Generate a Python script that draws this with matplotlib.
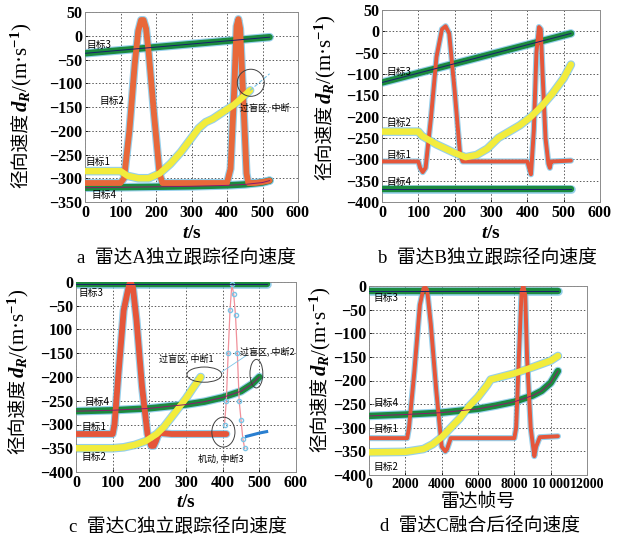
import matplotlib
matplotlib.use("Agg")
import matplotlib.pyplot as plt
from matplotlib.patches import Ellipse

plt.rcParams['font.family'] = ['Liberation Serif', 'Noto Sans CJK SC', 'DejaVu Sans']
plt.rcParams['mathtext.fontset'] = 'custom'
plt.rcParams['mathtext.rm'] = 'Liberation Serif:bold'
plt.rcParams['mathtext.it'] = 'Liberation Serif:italic:bold'
plt.rcParams['mathtext.bf'] = 'Liberation Serif:bold'

# ---------------- data: panel a ----------------
a_t3_t = [0, 520]
a_t3_v = [-37, -3]
a_t4_t = [0, 100, 200, 300, 400, 450, 500, 520]
a_t4_v = [-320, -319, -318, -317, -315, -313, -309, -305]
a_t1_t = [0, 100, 110, 125, 140, 150, 158, 165, 172, 180, 195, 210, 218,
          400, 410, 420, 427, 432, 437, 445, 455, 460, 480, 500, 520]
a_t1_v = [-310, -310, -300, -200, -60, 10, 33, 33, 15, -40, -170, -290, -310,
          -310, -280, -120, 20, 35, 15, -120, -290, -310, -310, -308, -305]
a_t2_t = [0, 100, 120, 150, 180, 210, 240, 270, 300, 320, 340, 360, 380, 400, 420, 440, 465]
a_t2_v = [-285, -285, -295, -300, -300, -290, -270, -245, -215, -195, -182, -175, -165, -155, -145, -132, -115]
a_gap_t = [465, 520]
a_gap_v = [-115, -80]

# ---------------- data: panel b ----------------
b_t3_t = [0, 520]
b_t3_v = [-120, -5]
b_t4_t = [0, 520]
b_t4_v = [-370, -370]
b_t1_t = [0, 100, 105, 112, 120, 135, 150, 165, 175, 185, 200, 215, 222,
          400, 405, 410, 418, 425, 432, 437, 442, 450, 458, 462, 465, 470, 520]
b_t1_v = [-305, -305, -320, -330, -320, -200, -60, 5, 12, -5, -140, -290, -305,
          -305, -320, -335, -230, -50, 10, 5, -100, -250, -310, -320, -305, -305, -303]
b_t2_t = [0, 100, 110, 150, 200, 230, 260, 290, 320, 350, 380, 410, 440, 470, 500, 520]
b_t2_v = [-235, -235, -245, -265, -285, -295, -290, -275, -250, -235, -220, -200, -175, -145, -110, -78]

# ---------------- data: panel c ----------------
c_t3_t = [0, 520]
c_t3_v = [-5, -5]
c_t4_t = [0, 100, 200, 300, 350, 400, 450, 480, 500]
c_t4_v = [-272, -270, -266, -258, -252, -243, -230, -215, -200]
c_t1_t = [0, 100, 105, 115, 130, 145, 150, 155, 165, 180, 195, 205, 212, 218, 225, 232, 260, 300, 350, 400, 410]
c_t1_v = [-320, -320, -300, -200, -60, -5, -2, -10, -80, -220, -320, -345, -345, -335, -320, -318,
          -320, -320, -320, -320, -320]
c_br_t = [405, 410, 415, 420, 425, 430, 435, 440, 445, 450, 455, 460]
c_br_v = [-300, -250, -150, -60, -5, -25, -70, -150, -250, -290, -330, -350]
c_bl_t = [465, 480, 500, 520]
c_bl_v = [-325, -322, -318, -315]
c_t2_t = [0, 50, 100, 130, 160, 190, 220, 240, 260, 280, 300, 320, 340]
c_t2_v = [-350, -350, -350, -348, -343, -335, -320, -305, -285, -265, -245, -222, -200]

# ---------------- data: panel d ----------------
d_t3_t = [0, 10400]
d_t3_v = [-10, -10]
d_t4_t = [0, 2000, 4000, 6000, 7000, 8000, 9000, 9500, 10000, 10400]
d_t4_v = [-275, -272, -268, -260, -253, -245, -232, -222, -205, -180]
d_t1_t = [0, 2100, 2200, 2500, 2800, 3000, 3100, 3200, 3400, 3700, 4000, 4200, 4300, 4500,
          8000, 8100, 8250, 8400, 8500, 8600, 8700, 8900, 9100, 9200, 9400, 10400]
d_t1_v = [-322, -322, -300, -180, -40, -5, -3, -8, -80, -220, -340, -350, -345, -322,
          -322, -300, -150, -10, 0, -20, -150, -300, -360, -340, -320, -318]
d_t2_t = [0, 2000, 3000, 3500, 4000, 4500, 5000, 5500, 6000, 6500, 6700, 7000, 8000, 9000, 10000, 10400]
d_t2_v = [-352, -351, -345, -335, -320, -300, -280, -255, -235, -210, -198, -195, -185, -172, -158, -148]

titles = ["a  雷达A独立跟踪径向速度", "b  雷达B独立跟踪径向速度",
          "c  雷达C独立跟踪径向速度", "d  雷达C融合后径向速度"]
ylabel_cjk = "径向速度"
ylabel_unit = "$d_R$/(m·s$^{-1}$)"

RED = '#e5563a'
YEL = '#f2ec3c'
GRN = '#1b8a3e'
CYAN = '#7cc4e6'
SERIF_CJK = ['Liberation Serif', 'Noto Sans CJK SC', 'DejaVu Sans']

W, H = 624, 542
fig = plt.figure(figsize=(W / 100, H / 100), dpi=100)
renderer = fig.canvas.get_renderer()


def add_ax(l, t, r, b):
    return fig.add_axes([l / W, 1 - b / H, (r - l) / W, (b - t) / H])


def track(ax, x, y, color, lw=4.6, center=None):
    ax.plot(x, y, color=CYAN, lw=lw + 1.6, alpha=0.8, solid_capstyle='round', zorder=2)
    ax.plot(x, y, color=color, lw=lw, solid_capstyle='round', zorder=3)
    if center:
        ax.plot(x, y, color=center, lw=0.7, zorder=4)


def ylab(xc, yc):
    t1 = fig.text(xc / W, 0, ylabel_cjk, rotation=90, ha='center', va='bottom',
                  fontsize=13.5, family=['Noto Sans CJK SC'])
    t2 = fig.text(xc / W, 0, ylabel_unit, rotation=90, ha='center', va='bottom',
                  fontsize=15, family=['Liberation Serif'])
    h1 = t1.get_window_extent(renderer).height
    h2 = t2.get_window_extent(renderer).height
    ybot = (H - yc) - (h1 + h2) / 2
    t1.set_y(ybot / H)
    t2.set_y((ybot + h1 + 1) / H)


def style(ax, xlim, ylim, xticks, yticks, ylabels=None):
    ax.set_xlim(*xlim)
    ax.set_ylim(*ylim)
    ax.set_xticks(xticks)
    ax.set_yticks(yticks)
    if ylabels is None:
        ylabels = [("\u2212" + str(-v)) if v < 0 else str(v) for v in yticks]
    ax.set_yticklabels(ylabels)
    ax.tick_params(direction='in', length=2, labelsize=11.5, pad=2, width=0.6)
    for lb in ax.get_xticklabels() + ax.get_yticklabels():
        lb.set_fontweight('bold')
    ax.grid(True, linestyle=(0, (1.5, 2)), color='0.35', lw=0.7)
    for s in ax.spines.values():
        s.set_color('0.55')
        s.set_linewidth(0.7)


def lab(ax, x, y, s):
    ax.text(x, y, s, fontsize=7, family=['Noto Sans CJK SC'], va='center', ha='left', zorder=6)


def title(x, y, s):
    fig.text(x / W, 1 - y / H, s, ha='center', va='center', fontsize=13.5, family=SERIF_CJK)


def note(ax, x, y, s):
    ax.text(x, y, s, fontsize=6.5, family=['Noto Sans CJK SC'], ha='center', va='center', zorder=6)


# ---- panel a ----
ax = add_ax(85, 12, 298, 202)
style(ax, (0, 600), (-350, 50), range(0, 601, 100), list(range(50, -351, -50)))
track(ax, a_t3_t, a_t3_v, GRN, center='#1a1f6b')
track(ax, a_t4_t, a_t4_v, GRN, center='#8a1a6b')
track(ax, a_t1_t, a_t1_v, '#e8683a', lw=4.2)
track(ax, a_t2_t, a_t2_v, YEL)
ax.plot(a_gap_t, a_gap_v, color=CYAN, lw=0.8, ls='--', zorder=3)
ax.add_patch(Ellipse((467, -99), 76, 57, fill=False, ec='0.25', lw=0.7, zorder=5))
note(ax, 505, -150, "过盲区, 中断")
lab(ax, 5, -20, "目标3")
lab(ax, 40, -137, "目标2")
lab(ax, 1, -266, "目标1")
lab(ax, 18, -336, "目标4")
ax.set_xlabel("$t$/s", fontsize=14, fontweight='bold', labelpad=3)
ylab(21, 106)
title(186, 258, titles[0])

# ---- panel b ----
ax = add_ax(382, 10, 600, 202)
style(ax, (0, 600), (-400, 50), range(0, 601, 100), list(range(50, -401, -50)))
track(ax, b_t3_t, b_t3_v, GRN, center='#1a1f6b')
track(ax, b_t4_t, b_t4_v, GRN, center='#1a1f6b')
track(ax, b_t1_t, b_t1_v, RED, lw=2.8)
track(ax, b_t2_t, b_t2_v, YEL)
lab(ax, 12, -96, "目标3")
lab(ax, 12, -216, "目标2")
lab(ax, 12, -290, "目标1")
lab(ax, 12, -353, "目标4")
ax.set_xlabel("$t$/s", fontsize=14, fontweight='bold', labelpad=3)
ylab(325, 98)
title(487, 258, titles[1])

# ---- panel c ----
ax = add_ax(76, 282, 296, 472)
style(ax, (0, 600), (-400, 0), range(0, 601, 100), list(range(0, -401, -50)),
      ["0", "\u221250", "100", "\u2212150", "\u2212200", "\u2212250", "\u2212300", "\u2212350", "\u2212400"])
track(ax, c_t3_t, c_t3_v, GRN, center='#1a1f6b')
track(ax, c_t4_t, c_t4_v, GRN, center='#8a1a6b')
track(ax, c_t1_t, c_t1_v, RED, lw=4.2)
ax.plot(c_br_t, c_br_v, color='#f0909a', lw=0.9, marker='o', ms=3, mfc='none', mec=CYAN, zorder=3)
ax.plot(c_bl_t, c_bl_v, color='#2a7fd0', lw=2.2, zorder=3)
track(ax, c_t2_t, c_t2_v, YEL)
ax.add_patch(Ellipse((350, -195), 95, 32, fill=False, ec='0.25', lw=0.7, zorder=5))
ax.add_patch(Ellipse((492, -193), 35, 60, fill=False, ec='0.25', lw=0.7, zorder=5))
ax.add_patch(Ellipse((402, -316), 63, 63, fill=False, ec='0.25', lw=0.7, zorder=5))
ax.plot([398, 466], [-189, -154], color=CYAN, lw=0.6, zorder=5)
note(ax, 300, -160, "过盲区, 中断1")
note(ax, 522, -147, "过盲区, 中断2")
note(ax, 395, -371, "机动, 中断3")
lab(ax, 8, -23, "目标3")
lab(ax, 22, -253, "目标4")
lab(ax, 14, -305, "目标1")
lab(ax, 14, -368, "目标2")
ax.set_xlabel("$t$/s", fontsize=14, fontweight='bold', labelpad=2)
ylab(18, 372)
title(178, 527, titles[2])

# ---- panel d ----
ax = add_ax(369, 286, 587, 475)
style(ax, (0, 12000), (-400, 0), range(0, 12001, 2000), list(range(0, -401, -50)))
ax.set_xticklabels(["0", "2000", "4000", "6000", "8000", "10 000", "12000"], fontweight='bold')
ax.tick_params(axis='x', labelsize=10)
track(ax, d_t3_t, d_t3_v, GRN, center='#1a1f6b')
track(ax, d_t4_t, d_t4_v, GRN, center='#8a1a6b')
track(ax, d_t1_t, d_t1_v, RED, lw=2.8)
track(ax, d_t2_t, d_t2_v, YEL)
lab(ax, 250, -25, "目标3")
lab(ax, 250, -248, "目标4")
lab(ax, 250, -302, "目标1")
lab(ax, 250, -383, "目标2")
ax.set_xlabel("雷达帧号", fontsize=13.5, family=['Noto Sans CJK SC'], labelpad=0)
ylab(320, 370)
title(480, 527, titles[3])

fig.savefig("out.png", dpi=100)
